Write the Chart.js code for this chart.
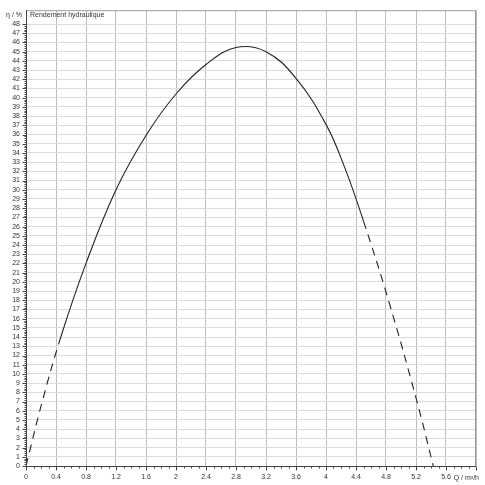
<!DOCTYPE html>
<html><head><meta charset="utf-8">
<script src="https://cdn.jsdelivr.net/npm/chart.js@4.4.1/dist/chart.umd.min.js"></script>
<style>html,body{margin:0;padding:0;background:#fff}#wrap{width:485px;height:485px}</style>
</head><body><div id="wrap"><canvas id="c" width="485" height="485"></canvas></div>
<script>
// ---- data ----
const flowQ      = [0, 0.21, 0.46, 0.8, 1.2, 1.6, 2.0, 2.4, 2.8, 3.2, 3.6, 4.0, 4.25, 4.5, 4.84, 5.21, 5.43];
const efficiency = [0, 6.8, 13.9, 22.0, 30.0, 35.9, 40.4, 43.6, 45.45, 45.0, 42.1, 37.1, 32.4, 26.6, 17.8, 7.1, 0];
const xTickValues = [0, 0.4, 0.8, 1.2, 1.6, 2, 2.4, 2.8, 3.2, 3.6, 4, 4.4, 4.8, 5.2, 5.6, 6];
const yTickValues = [0,1,2,3,4,5,6,7,8,9,10,11,12,13,14,15,16,17,18,19,20,21,22,23,24,25,26,27,28,29,30,31,32,33,34,35,36,37,38,39,40,41,42,43,44,45,46,47,48];
const xAxisTitle = 'Q / m³/h';
const yAxisTitle = 'η / %';
const curveTitle = 'Rendement hydraulique';
const solidFrom = 0.46, solidTo = 4.5;   // operating range drawn solid
const xMax = 6, yMax = 49.5;

const FONT = '"Liberation Sans", Arial, sans-serif';

const decor = {
  id: 'decor',
  afterDraw(chart) {
    const {ctx, chartArea: a, scales: {x, y}} = chart;
    ctx.save();
    // frame
    ctx.strokeStyle = '#9a9a9a'; ctx.lineWidth = 1;
    ctx.strokeRect(a.left + 0.5, a.top + 0.5, a.right - a.left - 1, a.bottom - a.top);
    // axis lines
    ctx.strokeStyle = '#444';
    ctx.beginPath();
    ctx.moveTo(a.left + 0.5, a.top); ctx.lineTo(a.left + 0.5, a.bottom + 0.5);
    ctx.lineTo(a.right, a.bottom + 0.5);
    ctx.stroke();
    // x ticks (every 0.1)
    ctx.beginPath();
    for (let i = 0; i <= xMax * 10; i++) {
      const px = Math.round(x.getPixelForValue(i / 10)) + 0.5;
      const len = (i % 4 === 0) ? 4 : 2;
      ctx.moveTo(px, a.bottom + 0.5); ctx.lineTo(px, a.bottom + 0.5 + len);
    }
    // y ticks (every 0.2)
    for (let i = 0; i <= 48 * 5; i++) {
      const py = Math.round(y.getPixelForValue(i / 5)) + 0.5;
      const len = (i % 5 === 0) ? 4 : 2;
      ctx.moveTo(a.left + 0.5, py); ctx.lineTo(a.left + 0.5 - len, py);
    }
    ctx.stroke();
    // titles
    ctx.fillStyle = '#333';
    ctx.font = '7px ' + FONT;
    ctx.textBaseline = 'middle';
    ctx.textAlign = 'right';
    ctx.fillText(yAxisTitle, a.left - 4, y.getPixelForValue(49));
    ctx.fillText(xAxisTitle, chart.width - 6, x.bottom - 7);
    ctx.textAlign = 'left';
    ctx.fillText(curveTitle, a.left + 4, a.top + 5);
    ctx.restore();
  }
};

new Chart(document.getElementById('c'), {
  type: 'line',
  data: {
    datasets: [{
      data: flowQ.map((q, i) => ({x: q, y: efficiency[i]})),
      borderColor: '#222',
      borderWidth: 1.1,
      pointRadius: 0,
      fill: false,
      tension: 0.4,
      borderDash: [],
      segment: {
        borderDash: c => (c.p1.parsed.x <= solidFrom + 1e-9 || c.p0.parsed.x >= solidTo - 1e-9) ? [8, 6] : undefined
      }
    }]
  },
  options: {
    responsive: false,
    devicePixelRatio: 1,
    animation: false,
    layout: {padding: {left: 0, right: 9, top: 5, bottom: 0}},
    plugins: {legend: {display: false}, tooltip: {enabled: false}},
    scales: {
      x: {
        type: 'linear', min: 0, max: xMax,
        afterBuildTicks: s => { s.ticks = xTickValues.map(v => ({value: v})); },
        afterFit: s => { s.height = 19; },
        border: {display: false},
        grid: {color: '#bdbdbd', lineWidth: 1, drawTicks: false},
        ticks: {
          autoSkip: false, maxRotation: 0, padding: 7,
          color: '#333', font: {family: FONT, size: 7},
          callback: v => (v >= xMax - 1e-9 ? '' : String(v))
        }
      },
      y: {
        type: 'linear', min: 0, max: yMax,
        afterBuildTicks: s => { s.ticks = yTickValues.map(v => ({value: v})); },
        afterFit: s => { s.width = 26; },
        border: {display: false},
        grid: {color: '#dcdcdc', lineWidth: 1, drawTicks: false},
        ticks: {
          autoSkip: false, padding: 6,
          color: '#333', font: {family: FONT, size: 7},
          callback: v => String(v)
        }
      }
    }
  },
  plugins: [decor]
});
</script>
</body></html>
